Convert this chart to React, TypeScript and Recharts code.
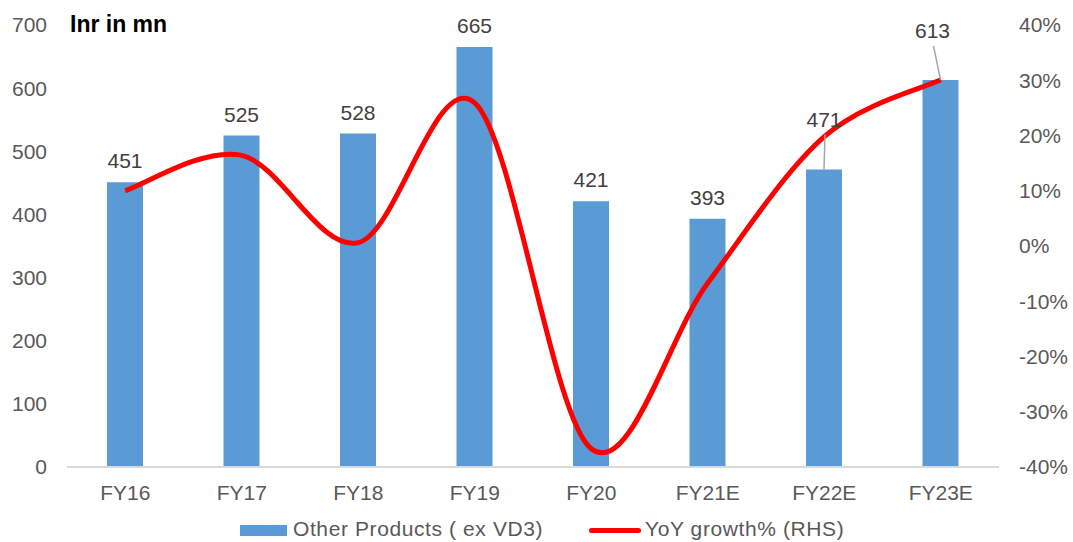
import React from "react";
import { ComposedChart, Bar, Line, XAxis, YAxis, LabelList, Legend } from "recharts";

const categories = ["FY16", "FY17", "FY18", "FY19", "FY20", "FY21E", "FY22E", "FY23E"];
const otherProducts = [451, 525, 528, 665, 421, 393, 471, 613];
const yoyGrowth = [10, 16.4, 0.6, 25.9, -36.7, -6.7, 19.8, 30.1];
const leftTicks = [0, 100, 200, 300, 400, 500, 600, 700];
const rightTicks = [-40, -30, -20, -10, 0, 10, 20, 30, 40];

const data = categories.map((c, i) => ({ name: c, value: otherProducts[i], growth: yoyGrowth[i] }));

const FONT = "'Liberation Sans', Arial, sans-serif";
const FS = 21;
const LABEL_SHIFT: Record<number, [number, number]> = { 6: [0, -29], 7: [-8, -28] };

// Catmull-Rom style smoothing similar to Excel's smoothed line
const smoothCurve: any = (context: any) => {
  let pts: [number, number][] = [];
  return {
    areaStart() {},
    areaEnd() {},
    lineStart() {
      pts = [];
    },
    lineEnd() {
      if (!pts.length) return;
      context.moveTo(pts[0][0], pts[0][1]);
      for (let i = 0; i < pts.length - 1; i++) {
        const p0 = pts[i - 1] || pts[i];
        const p1 = pts[i];
        const p2 = pts[i + 1];
        const p3 = pts[i + 2] || p2;
        const t = 6;
        context.bezierCurveTo(
          p1[0] + (p2[0] - p0[0]) / t,
          p1[1] + (p2[1] - p0[1]) / t,
          p2[0] - (p3[0] - p1[0]) / t,
          p2[1] - (p3[1] - p1[1]) / t,
          p2[0],
          p2[1]
        );
      }
    },
    point(x: number, y: number) {
      pts.push([+x, +y]);
    },
  };
};

const BarLabel = (props: any) => {
  const { x, y, width, value, index } = props;
  const cx = x + width / 2;
  const shift = LABEL_SHIFT[index] || [0, 0];
  const tx = cx + shift[0];
  const ty = y - 14 + shift[1];
  return (
    <g>
      {shift[1] !== 0 && (
        <line x1={tx + 1} y1={ty + 8} x2={cx} y2={y} stroke="#a6a6a6" strokeWidth={1.5} />
      )}
      <text x={tx} y={ty} textAnchor="middle" fill="#404040" fontSize={FS} fontFamily={FONT}>
        {value}
      </text>
    </g>
  );
};

const LegendContent = () => (
  <div style={{ height: 35, position: "relative", fontFamily: FONT, fontSize: FS, color: "#595959" }}>
    <div style={{ position: "absolute", left: 240, top: 18, width: 47, height: 11, background: "#5B9BD5" }} />
    <div style={{ position: "absolute", left: 293, top: 10, whiteSpace: "nowrap", lineHeight: "24px", letterSpacing: 0.6 }}>
      Other Products ( ex VD3)
    </div>
    <div style={{ position: "absolute", left: 589, top: 21, width: 52, height: 5, background: "#FF0000", borderRadius: 3 }} />
    <div style={{ position: "absolute", left: 645, top: 10, whiteSpace: "nowrap", lineHeight: "24px", letterSpacing: 0.6 }}>
      YoY growth% (RHS)
    </div>
  </div>
);

export default function App() {
  return (
    <div style={{ position: "absolute", left: 0, top: 0, width: 1073, height: 542, background: "#fff", overflow: "hidden" }}>
      <ComposedChart width={1073} height={542} data={data} margin={{ top: 25, right: 0, bottom: 0, left: 0 }}>
        <text x={70} y={32} fontSize={23} fontWeight="bold" fill="#000" fontFamily={FONT}>
          Inr in mn
        </text>
        <XAxis
          dataKey="name"
          height={40}
          tickLine={false}
          tickSize={0}
          tickMargin={18}
          axisLine={{ stroke: "#d9d9d9", strokeWidth: 2 }}
          tick={{ fill: "#595959", fontSize: FS, fontFamily: FONT }}
          interval={0}
        />
        <YAxis
          yAxisId="left"
          width={67}
          domain={[0, 700]}
          ticks={leftTicks}
          axisLine={false}
          tickLine={false}
          tickSize={0}
          tickMargin={20}
          tick={{ fill: "#595959", fontSize: FS, fontFamily: FONT }}
        />
        <YAxis
          yAxisId="right"
          orientation="right"
          width={74}
          domain={[-40, 40]}
          ticks={rightTicks}
          axisLine={false}
          tickLine={false}
          tickSize={0}
          tickMargin={20}
          tickFormatter={(v: number) => `${v}%`}
          tick={{ fill: "#595959", fontSize: FS, fontFamily: FONT }}
        />
        <Legend verticalAlign="bottom" height={35} content={<LegendContent />} />
        <Bar yAxisId="left" dataKey="value" fill="#5B9BD5" barSize={36} isAnimationActive={false} name="Other Products ( ex VD3)">
          <LabelList dataKey="value" content={<BarLabel />} />
        </Bar>
        <Line
          yAxisId="right"
          dataKey="growth"
          type={smoothCurve}
          stroke="#FF0000"
          strokeWidth={5}
          dot={false}
          isAnimationActive={false}
          name="YoY growth% (RHS)"
        />
      </ComposedChart>
    </div>
  );
}
